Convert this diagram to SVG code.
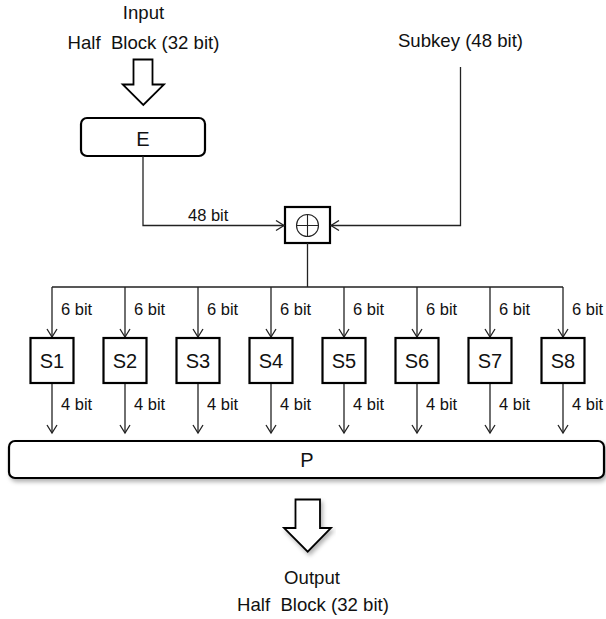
<svg xmlns="http://www.w3.org/2000/svg" width="606" height="619" viewBox="0 0 606 619">
<style>
text{font-family:"Liberation Sans",Arial,sans-serif;fill:#111;}
.big{font-size:18.6px;text-anchor:middle;}
.sb{font-size:20px;text-anchor:middle;}
.lbl{font-size:16.5px;}
.box{fill:#fff;stroke:#000;stroke-width:2.2;}
.ln{fill:none;stroke:#222;stroke-width:1.3;}
.fat{fill:#fff;stroke:#000;stroke-width:1.8;stroke-linejoin:miter;}
</style>
<defs>
<marker id="ah" markerUnits="userSpaceOnUse" markerWidth="12" markerHeight="12" viewBox="-10 -6 12 12" refX="0" refY="0" orient="auto">
<path d="M-8,-5 L0,0 L-8,5" fill="none" stroke="#222" stroke-width="1.3"/>
</marker>
<filter id="sh" x="-5%" y="-20%" width="115%" height="160%">
<feDropShadow dx="2" dy="3" stdDeviation="2" flood-color="#000" flood-opacity="0.3"/>
</filter>
</defs>

<g id="input-label">
<text class="big" x="143.5" y="19">Input</text>
<text class="big" x="143.5" y="49" xml:space="preserve">Half  Block (32 bit)</text>
</g>
<g id="input-arrow">
<path class="fat" d="M133.5,59.5 H152.5 V84.5 H164 L143.3,105 L122.7,84.5 H133.5 Z"/>
</g>
<g id="subkey-label">
<text class="big" x="460.5" y="47">Subkey (48 bit)</text>
</g>
<g id="E">
<rect class="box" x="81" y="118" width="124" height="38" rx="6"/>
<text class="sb" x="143" y="145.5">E</text>
</g>
<g id="xor">
<rect class="box" x="285" y="207" width="45" height="36"/>
<circle cx="307.5" cy="225.5" r="11" fill="none" stroke="#222" stroke-width="1.1"/>
<path d="M296.5,225.5 H318.5 M307.5,214.5 V236.5" stroke="#222" stroke-width="1.1"/>
</g>

<g id="connectors">
<path class="ln" d="M143,156 V225.5 H284" marker-end="url(#ah)"/>
<path class="ln" d="M460.5,67 V225.5 H331" marker-end="url(#ah)"/>
<path class="ln" d="M307.5,243 V287 M52,287 H563"/>
<path class="ln" d="M52,287 V337" marker-end="url(#ah)"/>
<path class="ln" d="M125,287 V337" marker-end="url(#ah)"/>
<path class="ln" d="M198,287 V337" marker-end="url(#ah)"/>
<path class="ln" d="M271,287 V337" marker-end="url(#ah)"/>
<path class="ln" d="M344,287 V337" marker-end="url(#ah)"/>
<path class="ln" d="M417,287 V337" marker-end="url(#ah)"/>
<path class="ln" d="M490,287 V337" marker-end="url(#ah)"/>
<path class="ln" d="M563,287 V337" marker-end="url(#ah)"/>
<path class="ln" d="M52,383 V433" marker-end="url(#ah)"/>
<path class="ln" d="M125,383 V433" marker-end="url(#ah)"/>
<path class="ln" d="M198,383 V433" marker-end="url(#ah)"/>
<path class="ln" d="M271,383 V433" marker-end="url(#ah)"/>
<path class="ln" d="M344,383 V433" marker-end="url(#ah)"/>
<path class="ln" d="M417,383 V433" marker-end="url(#ah)"/>
<path class="ln" d="M490,383 V433" marker-end="url(#ah)"/>
<path class="ln" d="M563,383 V433" marker-end="url(#ah)"/>
<text class="lbl" x="188" y="221">48 bit</text>
<text class="lbl" x="61" y="315">6 bit</text>
<text class="lbl" x="134" y="315">6 bit</text>
<text class="lbl" x="207" y="315">6 bit</text>
<text class="lbl" x="280" y="315">6 bit</text>
<text class="lbl" x="353" y="315">6 bit</text>
<text class="lbl" x="426" y="315">6 bit</text>
<text class="lbl" x="499" y="315">6 bit</text>
<text class="lbl" x="572" y="315">6 bit</text>
<text class="lbl" x="61" y="410">4 bit</text>
<text class="lbl" x="134" y="410">4 bit</text>
<text class="lbl" x="207" y="410">4 bit</text>
<text class="lbl" x="280" y="410">4 bit</text>
<text class="lbl" x="353" y="410">4 bit</text>
<text class="lbl" x="426" y="410">4 bit</text>
<text class="lbl" x="499" y="410">4 bit</text>
<text class="lbl" x="572" y="410">4 bit</text>
</g>

<g id="S1"><rect class="box" x="30.5" y="338" width="43" height="45"/><text class="sb" x="52" y="368">S1</text></g>
<g id="S2"><rect class="box" x="103.5" y="338" width="43" height="45"/><text class="sb" x="125" y="368">S2</text></g>
<g id="S3"><rect class="box" x="176.5" y="338" width="43" height="45"/><text class="sb" x="198" y="368">S3</text></g>
<g id="S4"><rect class="box" x="249.5" y="338" width="43" height="45"/><text class="sb" x="271" y="368">S4</text></g>
<g id="S5"><rect class="box" x="322.5" y="338" width="43" height="45"/><text class="sb" x="344" y="368">S5</text></g>
<g id="S6"><rect class="box" x="395.5" y="338" width="43" height="45"/><text class="sb" x="417" y="368">S6</text></g>
<g id="S7"><rect class="box" x="468.5" y="338" width="43" height="45"/><text class="sb" x="490" y="368">S7</text></g>
<g id="S8"><rect class="box" x="541.5" y="338" width="43" height="45"/><text class="sb" x="563" y="368">S8</text></g>

<g id="P">
<rect class="box" x="9" y="441" width="595" height="37" rx="6" filter="url(#sh)"/>
<text class="sb" x="307" y="466.5">P</text>
</g>
<g id="output-arrow">
<path class="fat" d="M295.5,499.5 H320 V528 H331 L307.7,551.7 L284,528 H295.5 Z" filter="url(#sh)"/>
</g>
<g id="output-label">
<text class="big" x="312" y="584">Output</text>
<text class="big" x="313" y="611" xml:space="preserve">Half  Block (32 bit)</text>
</g>
</svg>
